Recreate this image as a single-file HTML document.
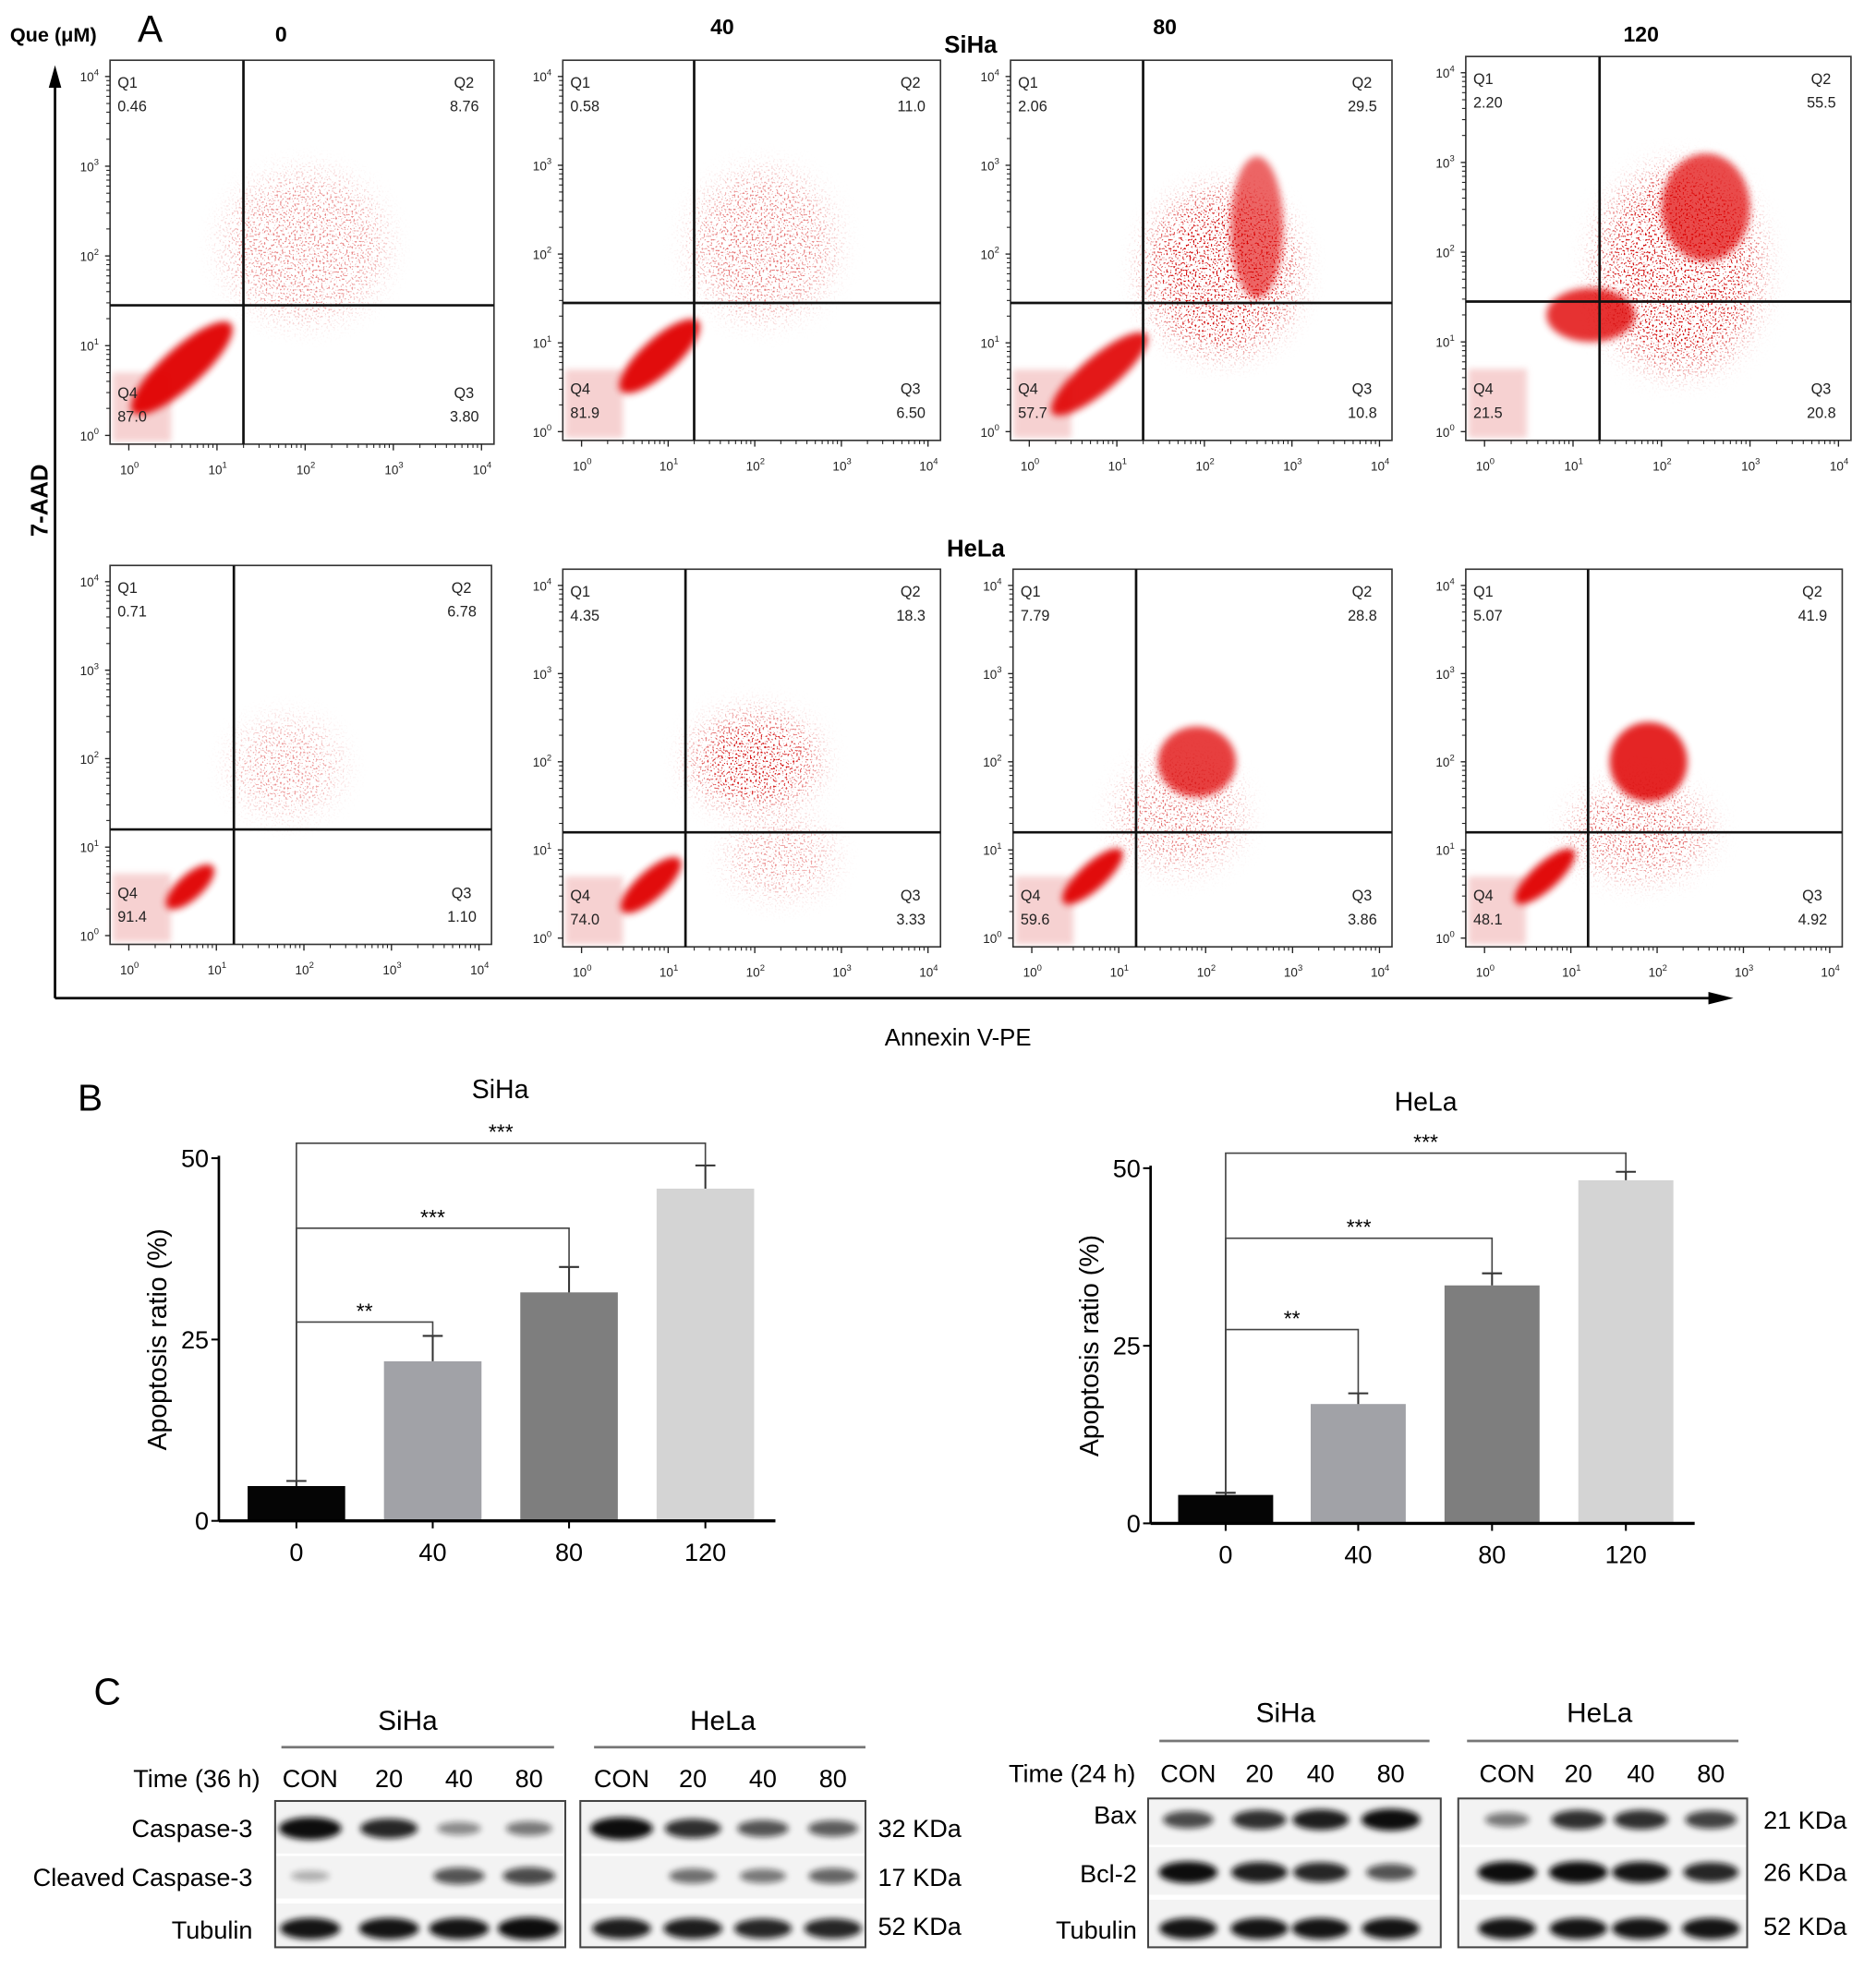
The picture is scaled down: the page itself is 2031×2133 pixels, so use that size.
<!DOCTYPE html>
<html><head><meta charset="utf-8"><style>
html,body{margin:0;padding:0;background:#fff;}
svg{display:block;font-family:"Liberation Sans",sans-serif;}
</style></head><body>
<svg id="fig" width="2031" height="2133" viewBox="0 0 1500 1575" xmlns="http://www.w3.org/2000/svg">
<defs>
<filter id="b3" x="-50%" y="-50%" width="200%" height="200%"><feGaussianBlur stdDeviation="3"/></filter>
<filter id="speck" x="-50%" y="-50%" width="200%" height="200%">
<feGaussianBlur in="SourceGraphic" stdDeviation="12" result="b"/>
<feTurbulence type="fractalNoise" baseFrequency="0.7" numOctaves="1" seed="3" result="n"/>
<feColorMatrix in="n" type="matrix" values="0 0 0 0 0  0 0 0 0 0  0 0 0 0 0  0 0 0 -9 3.9" result="m"/>
<feComposite in="b" in2="m" operator="in"/>
</filter>
<filter id="bb" x="-50%" y="-50%" width="200%" height="200%"><feGaussianBlur stdDeviation="2.5"/></filter>
</defs>
<g id="panelA">
<text x="8" y="33" font-size="16" font-weight="bold">Que (μM)</text>
<text x="110" y="33" font-size="30">A</text>
<text x="220" y="33" font-size="17" font-weight="bold">0</text>
<text x="568" y="27" font-size="17" font-weight="bold">40</text>
<text x="922" y="27" font-size="17" font-weight="bold">80</text>
<text x="1298" y="33" font-size="17" font-weight="bold">120</text>
<text x="755" y="42" font-size="19" font-weight="bold">SiHa</text>
<text x="757" y="445" font-size="19" font-weight="bold">HeLa</text>
<line x1="44" y1="798" x2="44" y2="62" stroke="#000" stroke-width="2"/>
<polygon points="44,52 39,70 49,70"/>
<line x1="44" y1="798" x2="1370" y2="798" stroke="#000" stroke-width="2"/>
<polygon points="1386,798 1366,793 1366,803"/>
<text transform="translate(38,400) rotate(-90)" text-anchor="middle" font-size="19" font-weight="bold">7-AAD</text>
<text x="766" y="836" text-anchor="middle" font-size="19">Annexin V-PE</text>
</g>
<g id="panelB"></g>
<g id="panelC"></g>
</svg>
<script>
// ---------- Flow cytometry data ----------
const flowQ1 = [0.46,0.58,2.06,2.20,0.71,4.35,7.79,5.07];
const flowQ2 = [8.76,11.0,29.5,55.5,6.78,18.3,28.8,41.9];
const flowQ3 = [3.80,6.50,10.8,20.8,1.10,3.33,3.86,4.92];
const flowQ4 = [87.0,81.9,57.7,21.5,91.4,74.0,59.6,48.1];
const flowGateX = [1.3,1.3,1.3,1.3,1.2,1.2,1.2,1.2];
const flowGateY = [1.45,1.45,1.45,1.45,1.2,1.2,1.2,1.2];
// clusters [x decade, y decade, rx, ry, angle, opacity]
const flowClusters = [
 [[0.6,0.75,0.75,0.22,-42,0.95],[2.0,2.1,0.9,0.8,0,0.22]],
 [[0.9,0.85,0.6,0.2,-42,0.95],[2.1,2.1,0.8,0.8,0,0.25]],
 [[0.8,0.65,0.7,0.2,-40,0.9],[2.2,1.8,0.85,0.9,0,0.45],[2.6,2.3,0.3,0.8,0,0.6]],
 [[1.2,1.3,0.5,0.3,0,0.8],[2.2,1.8,0.9,1.1,0,0.55],[2.5,2.5,0.5,0.6,0,0.7]],
 [[0.7,0.55,0.35,0.14,-42,0.95],[1.8,1.9,0.6,0.5,0,0.2]],
 [[0.8,0.6,0.45,0.16,-42,0.95],[2.0,2.0,0.7,0.5,0,0.55],[2.3,0.9,0.6,0.4,0,0.2]],
 [[0.7,0.7,0.45,0.15,-42,0.95],[1.9,2.0,0.45,0.4,0,0.75],[1.7,1.4,0.7,0.6,0,0.25]],
 [[0.7,0.7,0.45,0.15,-42,0.95],[1.9,2.0,0.45,0.45,0,0.85],[1.8,1.2,0.8,0.5,0,0.3]]
];
const flowBoxes = [[88,48,395,355],[450,48,752,352],[808,48,1113,352],[1172,45,1480,352],
                   [88,452,393,755],[450,455,752,757],[810,455,1113,757],[1172,455,1473,757]];

// ---------- Bar chart data ----------
const barCategories = ["0","40","80","120"];
const sihaValues = [4.8,22.0,31.5,45.8];
const sihaErrors = [0.7,3.5,3.5,3.2];
const helaValues = [4.0,16.8,33.5,48.3];
const helaErrors = [0.3,1.5,1.7,1.2];
const barTicks = [0,25,50];
const sihaSig = [["**",1],["***",2],["***",3]];
const helaSig = [["**",1],["***",2],["***",3]];

// ---------- Western blot data ----------
const lanesLeft = ["CON","20","40","80"];
const casp3Siha = [1.0,0.8,0.25,0.35];
const cleavedSiha = [0.05,0.0,0.55,0.6];
const tubSihaL = [0.9,0.9,0.9,1.0];
const casp3Hela = [1.0,0.75,0.55,0.5];
const cleavedHela = [0.0,0.4,0.35,0.45];
const tubHelaL = [0.85,0.85,0.8,0.8];
const baxSiha = [0.6,0.75,0.85,0.95];
const bcl2Siha = [0.95,0.85,0.8,0.55];
const tubSihaR = [0.9,0.9,0.9,0.9];
const baxHela = [0.35,0.75,0.75,0.65];
const bcl2Hela = [0.95,0.95,0.9,0.8];
const tubHelaR = [0.9,0.9,0.9,0.9];

const NS="http://www.w3.org/2000/svg";
function mk(tag, attrs, parent, txt){const e=document.createElementNS(NS,tag);for(const k in attrs)e.setAttribute(k,attrs[k]);if(txt!==undefined)e.textContent=txt;parent.appendChild(e);return e;}

// ---- draw flow panels ----
const A=document.getElementById('panelA');
flowBoxes.forEach((b,i)=>{
  const [L,T,R,B]=b;
  const g=mk('g',{},A);
  
  
  const x0=L+15,x4=R-10,y0=B-7,y4=T+13;
  const sx=d=>x0+(x4-x0)*d/4, sy=d=>y0-(y0-y4)*d/4;
  const cg=mk('g',{},g);
  
  
  const pk=mk('rect',{x:L+2,y:sy(0.7),width:sx(0.45)-L,height:B-sy(0.7)-2,fill:'#f4c6c6',opacity:0.8,filter:'url(#bb)'},cg);
  
  
  flowClusters[i].forEach(c=>{
    const px=sx(c[0]),py=sy(c[1]),rx=(x4-x0)/4*c[2],ry=(y0-y4)/4*c[3];
    const big=c[5]<0.6;
    const el=mk('ellipse',{cx:px,cy:py,rx:rx,ry:ry,fill:big?'#d00000':'#e00000',opacity:big?Math.min(1,c[5]*2.2):c[5],transform:`rotate(${c[4]} ${px} ${py})`,filter:big?'url(#speck)':'url(#b3)'},cg);
    
    
  });
  const box=mk('rect',{x:L,y:T,width:R-L,height:B-T,fill:'none',stroke:'#333','stroke-width':1.2},g);
  
  
  const gx=sx(flowGateX[i]),gy=sy(flowGateY[i]);
  const vl=mk('line',{x1:gx,y1:T,x2:gx,y2:B,stroke:'#111','stroke-width':2},g);
  
  
  const hl=mk('line',{x1:L,y1:gy,x2:R,y2:gy,stroke:'#111','stroke-width':2},g);
  
  
  for(let d=0;d<=4;d++){
    const yl=mk('text',{x:L-24,y:sy(d)+4,'font-size':10,fill:'#222'},g,'10');
    
    
    mk('tspan',{dy:-5,'font-size':7},yl,String(d));
    mk('line',{x1:L-4,y1:sy(d),x2:L,y2:sy(d),stroke:'#222'},g);
    const xl=mk('text',{x:sx(d)-7,y:B+24,'font-size':10,fill:'#222'},g,'10');
    
    
    mk('tspan',{dy:-5,'font-size':7},xl,String(d));
    mk('line',{x1:sx(d),y1:B,x2:sx(d),y2:B+5,stroke:'#222'},g);
    if(d<4)for(let m=2;m<10;m++){const lx=sx(d+Math.log10(m));mk('line',{x1:lx,y1:B,x2:lx,y2:B+3,stroke:'#222','stroke-width':0.8},g);
      const ly=sy(d+Math.log10(m));mk('line',{x1:L-3,y1:ly,x2:L,y2:ly,stroke:'#222','stroke-width':0.8},g);}
  }
  const fmt=v=>v>=10?v.toFixed(1):v.toFixed(2);
  const labs=[['Q1',L+6,T+22,'start',flowQ1[i]],['Q2',R-28,T+22,'end',flowQ2[i]],['Q4',L+6,B-37,'start',flowQ4[i]],['Q3',R-28,B-37,'end',flowQ3[i]]];
  labs.forEach(q=>{
    const t=mk('text',{x:q[3]==='end'?q[1]-4:q[1],y:q[2],'font-size':12,fill:'#222'},g,q[0]);
    
    
    const v=mk('text',{x:q[3]==='end'?q[1]+16:q[1],y:q[2]+19,'font-size':12,fill:'#222','text-anchor':q[3]},g,(q[0]==='Q4'?q[4].toFixed(1):fmt(q[4])));
    
    
  });
});

// ---- bar charts ----
const Bg=document.getElementById('panelB');
const bl=mk('text',{x:62,y:888,'font-size':30},Bg,'B');


const barColors=['#050505','#a1a2a7','#7e7e7e','#d4d4d4'];
function barChart(name,title,titleX,titleY,axL,axR,y0px,y50px,cx,bw,vals,errs,sig,sigY){
  const g=mk('g',{},Bg);
  
  
  const ys=v=>y0px-(y0px-y50px)*v/50;
  const t=mk('text',{x:titleX,y:titleY,'font-size':21,'text-anchor':'middle'},g,title);
  
  
  vals.forEach((v,k)=>{
    const r=mk('rect',{x:cx[k]-bw/2,y:ys(v),width:bw,height:y0px-ys(v),fill:barColors[k]},g);
    
    
    const top=ys(v+errs[k]);
    const e=mk('path',{d:`M${cx[k]} ${ys(v)}V${top}M${cx[k]-8} ${top}H${cx[k]+8}`,stroke:'#333','stroke-width':1.5,fill:'none'},g);
    
    
    const xl=mk('text',{x:cx[k],y:y0px+32,'font-size':20,'text-anchor':'middle'},g,barCategories[k]);
    
    
    mk('line',{x1:cx[k],y1:y0px,x2:cx[k],y2:y0px+6,stroke:'#000','stroke-width':1.5},g);
  });
  const ya=mk('line',{x1:axL,y1:y50px-2,x2:axL,y2:y0px,stroke:'#000','stroke-width':2},g);
  
  
  const xa=mk('line',{x1:axL,y1:y0px,x2:axR,y2:y0px,stroke:'#000','stroke-width':2.5},g);
  
  
  barTicks.forEach(tv=>{
    mk('line',{x1:axL-6,y1:ys(tv),x2:axL,y2:ys(tv),stroke:'#000','stroke-width':1.5},g);
    const tl=mk('text',{x:axL-8,y:ys(tv)+7,'font-size':20,'text-anchor':'end'},g,String(tv));
    
    
  });
  const yt=mk('text',{transform:`translate(${axL-42},${(y0px+y50px)/2}) rotate(-90)`,'font-size':21,'text-anchor':'middle'},g,'Apoptosis ratio (%)');
  
  
  sig.forEach((s,k)=>{
    const j=s[1],yy=sigY[k];
    const p=mk('path',{d:`M${cx[0]} ${ys(vals[0]+errs[0])}V${yy}H${cx[j]}V${ys(vals[j]+errs[j])}`,stroke:'#444','stroke-width':1.2,fill:'none'},g);
    
    
    const st=mk('text',{x:cx[0]+(k===0?(cx[1]-cx[0])/2:(cx[j]-cx[0])*0.5),y:yy-3,'font-size':17,'text-anchor':'middle'},g,s[0]);
    
    
  });
}
barChart('siha-bar-chart','SiHa',400,878,175,620,1216,926,[237,346,455,564],78,sihaValues,sihaErrors,sihaSig,[1057,982,914]);
barChart('hela-bar-chart','HeLa',1140,888,920,1355,1218,934,[980,1086,1193,1300],76,helaValues,helaErrors,helaSig,[1063,990,922]);

// ---- western blots ----
const C=document.getElementById('panelC');
const cl=mk('text',{x:75,y:1363,'font-size':30},C,'C');


function txt(x,y,s,name,anchor,size){const t=mk('text',{x:x,y:y,'font-size':size||20,'text-anchor':anchor||'start'},C,s);return t;}
function blot(name,L,R,T,B,lanes,rows,rowY,bw){
  const g=mk('g',{},C);
  
  
  mk('rect',{x:L,y:T,width:R-L,height:B-T,fill:'#f3f3f3'},g);
  mk('rect',{x:L,y:rowY[1]+18,width:R-L,height:4,fill:'#fff'},g);
  mk('rect',{x:L,y:rowY[0]+20,width:R-L,height:2,fill:'#fff'},g);
  rows.forEach((arr,r)=>{arr.forEach((v,k)=>{
    if(v<=0.02)return;
    const e=mk('ellipse',{cx:lanes[k],cy:rowY[r],rx:bw*(0.6+0.4*v)/2,ry:4+5*v,fill:'#111',opacity:Math.min(1,0.25+0.8*v),filter:'url(#bb)'},g);
    
    
  });});
  const f=mk('rect',{x:L,y:T,width:R-L,height:B-T,fill:'none',stroke:'#444','stroke-width':1.5},g);
  
  
}
function header(label,cx,y,l,r,ly){txt(cx,y,label,'cell-line-header','middle',22);const ln=mk('line',{x1:l,y1:ly,x2:r,y2:ly,stroke:'#777','stroke-width':2},C);}
header('SiHa',326,1383,225,443,1397);header('HeLa',578,1383,475,692,1397);
header('SiHa',1028,1377,927,1143,1392);header('HeLa',1279,1377,1173,1390,1392);
txt(208,1429,'Time (36 h)','time-label','end');
txt(908,1425,'Time (24 h)','time-label','end');
const lxSL=[248,311,367,423],lxHL=[497,554,610,666],lxSR=[950,1007,1056,1112],lxHR=[1205,1262,1312,1368];
[[lxSL,1429],[lxHL,1429],[lxSR,1425],[lxHR,1425]].forEach(p=>p[0].forEach((x,k)=>txt(x,p[1],lanesLeft[k],'lane-label','middle')));
txt(202,1469,'Caspase-3','row-label','end');
txt(202,1508,'Cleaved Caspase-3','row-label','end');
txt(202,1550,'Tubulin','row-label','end');
txt(909,1458,'Bax','row-label','end');
txt(909,1505,'Bcl-2','row-label','end');
txt(909,1550,'Tubulin','row-label','end');
txt(702,1469,'32 KDa','mw-label');txt(702,1508,'17 KDa','mw-label');txt(702,1547,'52 KDa','mw-label');
txt(1410,1462,'21 KDa','mw-label');txt(1410,1504,'26 KDa','mw-label');txt(1410,1547,'52 KDa','mw-label');
blot('blot-siha-caspase',220,452,1440,1557,lxSL,[casp3Siha,cleavedSiha,tubSihaL],[1462,1500,1542],50);
blot('blot-hela-caspase',464,692,1440,1557,lxHL,[casp3Hela,cleavedHela,tubHelaL],[1462,1500,1542],50);
blot('blot-siha-bax',918,1152,1438,1557,lxSR,[baxSiha,bcl2Siha,tubSihaR],[1455,1497,1542],48);
blot('blot-hela-bax',1166,1397,1438,1557,lxHR,[baxHela,bcl2Hela,tubHelaR],[1455,1497,1542],48);
</script>
</body></html>
